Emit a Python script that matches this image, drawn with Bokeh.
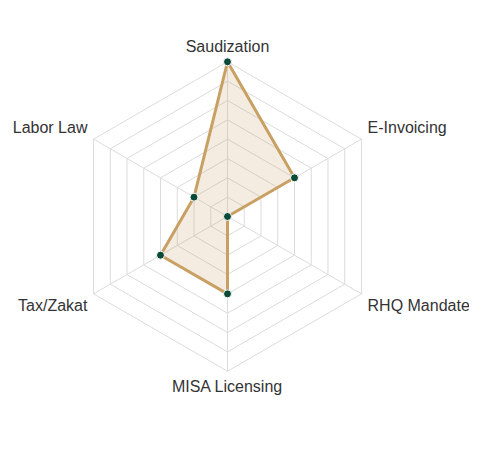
import numpy as np
from bokeh.plotting import figure
from bokeh.models import Range1d, ColumnDataSource
from bokeh.embed import file_html
from bokeh.resources import INLINE
from bokeh.core.properties import value

categories = ["Saudization", "E-Invoicing", "RHQ Mandate", "MISA Licensing", "Tax/Zakat", "Labor Law"]
scores = [100, 50, 0, 50, 50, 25]
max_score = 100
n_rings = 8

W, H = 469, 434
cx_px, cy_px = 227, 216      # center in figure pixels (from left / from top)
R = 154.7                    # outer radius in pixels
scale = R / max_score

p = figure(width=W, height=H, output_backend="svg", toolbar_location=None,
           x_range=Range1d(-cx_px, W - cx_px), y_range=Range1d(-(H - cy_px), cy_px),
           min_border=0, border_fill_color="white", background_fill_color="white")
p.axis.visible = False
p.grid.visible = False
p.outline_line_color = None

n = len(categories)
angles = np.pi / 2 - np.arange(n) * 2 * np.pi / n
cosv, sinv = np.cos(angles), np.sin(angles)

# grid rings
ring_xs, ring_ys = [], []
for k in range(1, n_rings + 1):
    r = R * k / n_rings
    ring_xs.append(list(np.append(r * cosv, r * cosv[0])))
    ring_ys.append(list(np.append(r * sinv, r * sinv[0])))
p.multi_line(ring_xs, ring_ys, line_color="#dcdcdc", line_width=1)

# spokes
p.multi_line([[0, R * c] for c in cosv], [[0, R * s] for s in sinv],
             line_color="#dcdcdc", line_width=1)

# data polygon
vals = np.array(scores) * scale
px, py = vals * cosv, vals * sinv
p.patch(list(px), list(py), fill_color="#C9A063", fill_alpha=0.2,
        line_color="#C9A063", line_width=3, line_join="round")
p.scatter(list(px), list(py), size=8, fill_color="#0B4A36", line_color="white", line_width=1)

# labels
rl = R + 7
aligns, bases = [], []
for c, s in zip(cosv, sinv):
    aligns.append("center" if abs(c) < 0.01 else ("left" if c > 0 else "right"))
    bases.append("middle" if abs(s) < 0.01 else ("bottom" if s > 0 else "top"))
src = ColumnDataSource(dict(x=list(rl * cosv), y=list(rl * sinv), t=categories,
                            a=aligns, b=bases))
p.text("x", "y", text="t", source=src, text_align="a", text_baseline="b",
       text_font=value("Liberation Sans"), text_font_size="16px", text_color="#333333")

open("out.html", "w").write(file_html(p, INLINE))
